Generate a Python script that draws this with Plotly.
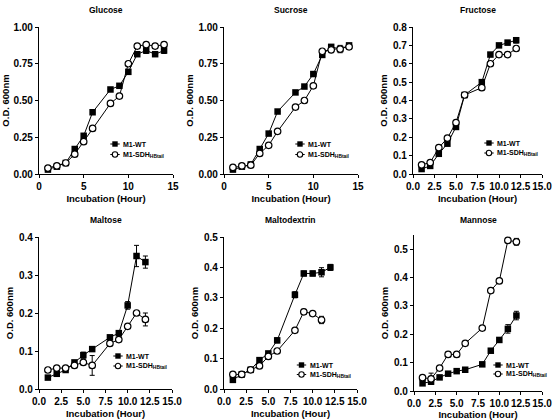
import plotly.graph_objects as go

# ---------------- data ----------------
hours_14 = [1, 2, 3, 4, 5, 6, 8, 9, 10, 11, 12, 13, 14]
hours_12 = [1, 2, 3, 4, 5, 6, 8, 9, 10, 11, 12]
hours_11 = [1, 2, 3, 4, 5, 6, 8, 9, 10, 11]

glucose_wt = [0.03, 0.05, 0.075, 0.17, 0.26, 0.42, 0.575, 0.60, 0.695, 0.815, 0.84, 0.815, 0.84]
glucose_wt_err = [0, 0, 0, 0.01, 0, 0, 0, 0, 0, 0.01, 0.02, 0.015, 0.02]
glucose_sdh = [0.04, 0.055, 0.075, 0.135, 0.22, 0.31, 0.48, 0.53, 0.75, 0.87, 0.88, 0.87, 0.88]
glucose_sdh_err = [0, 0, 0, 0, 0, 0, 0, 0, 0, 0.015, 0.015, 0.015, 0.015]

sucrose_wt = [0.03, 0.05, 0.065, 0.17, 0.275, 0.425, 0.555, 0.595, 0.68, 0.81, 0.865, 0.85, 0.875]
sucrose_wt_err = [0, 0, 0, 0, 0, 0, 0, 0, 0, 0.01, 0.015, 0.01, 0.01]
sucrose_sdh = [0.045, 0.055, 0.06, 0.14, 0.195, 0.29, 0.455, 0.50, 0.60, 0.835, 0.845, 0.85, 0.865]
sucrose_sdh_err = [0, 0, 0, 0, 0, 0, 0, 0, 0, 0.01, 0.02, 0.025, 0.01]

fructose_wt = [0.027, 0.044, 0.11, 0.165, 0.256, 0.43, 0.50, 0.65, 0.70, 0.715, 0.728]
fructose_wt_err = [0, 0, 0, 0, 0, 0, 0.01, 0.01, 0, 0.012, 0.015]
fructose_sdh = [0.05, 0.062, 0.143, 0.195, 0.28, 0.43, 0.47, 0.60, 0.65, 0.65, 0.683]
fructose_sdh_err = [0, 0, 0, 0, 0, 0, 0, 0, 0, 0, 0.01]

maltose_wt = [0.03, 0.04, 0.05, 0.07, 0.089, 0.105, 0.136, 0.147, 0.22, 0.35, 0.334]
maltose_wt_err = [0, 0, 0, 0, 0.008, 0, 0, 0, 0.01, 0.028, 0.016]
maltose_sdh = [0.05, 0.055, 0.055, 0.062, 0.07, 0.062, 0.12, 0.13, 0.165, 0.20, 0.183]
maltose_sdh_err = [0, 0, 0, 0, 0, 0.026, 0, 0, 0.006, 0, 0.017]

maltodextrin_wt = [0.03, 0.048, 0.063, 0.095, 0.117, 0.16, 0.31, 0.38, 0.38, 0.384, 0.40]
maltodextrin_wt_err = [0, 0, 0, 0, 0, 0.008, 0.01, 0.008, 0.008, 0.015, 0.01]
maltodextrin_sdh = [0.048, 0.048, 0.063, 0.076, 0.107, 0.125, 0.193, 0.254, 0.248, 0.227]
maltodextrin_sdh_err = [0, 0, 0, 0, 0, 0, 0, 0.008, 0, 0.012]

mannose_wt = [0.027, 0.033, 0.048, 0.061, 0.07, 0.075, 0.094, 0.142, 0.18, 0.219, 0.266]
mannose_wt_err = [0, 0.01, 0, 0, 0, 0, 0, 0, 0, 0.015, 0.015]
mannose_sdh = [0.047, 0.043, 0.081, 0.129, 0.129, 0.168, 0.222, 0.354, 0.388, 0.531, 0.526]
mannose_sdh_err = [0, 0.02, 0, 0.008, 0.008, 0, 0, 0, 0.008, 0, 0.012]

panel_titles = ["Glucose", "Sucrose", "Fructose", "Maltose", "Maltodextrin", "Mannose"]
series_names = ["M1-WT", "M1-SDH<sub>HBtail</sub>"]

panels_data = [
    (hours_14, glucose_wt, glucose_wt_err, hours_14, glucose_sdh, glucose_sdh_err),
    (hours_14, sucrose_wt, sucrose_wt_err, hours_14, sucrose_sdh, sucrose_sdh_err),
    (hours_12, fructose_wt, fructose_wt_err, hours_12, fructose_sdh, fructose_sdh_err),
    (hours_12, maltose_wt, maltose_wt_err, hours_12, maltose_sdh, maltose_sdh_err),
    (hours_12, maltodextrin_wt, maltodextrin_wt_err, hours_11, maltodextrin_sdh, maltodextrin_sdh_err),
    (hours_12, mannose_wt, mannose_wt_err, hours_12, mannose_sdh, mannose_sdh_err),
]

# ---------------- layout spec (pixels) ----------------
W, H = 560, 420
# x0, x1, ytop, ybottom, yrange max, ydtick, yfmt, xdtick, xfmt, legend marker x, legend y1, legend y2
panel_layout = [
    (39, 173, 27, 174, 1.0, 0.25, ".2f", 5, "d", 115, 144, 154.5),
    (224, 358, 27, 174, 1.0, 0.25, ".2f", 5, "d", 300, 144, 154.5),
    (413, 542, 27, 174, 0.8, 0.1, ".1f", 2.5, ".1f", 489, 143, 153),
    (39, 172, 237, 389, 0.4, 0.1, ".1f", 2.5, ".1f", 118, 356, 366),
    (224, 357, 237, 389, 0.5, 0.1, ".1f", 2.5, ".1f", 301.5, 365, 374.5),
    (414, 542, 235, 391, 0.55, 0.1, ".1f", 2.5, ".1f", 498, 365, 374),
]
title_y = [10, 10, 10, 220, 220, 220]


def px(x):
    return x / W


def py(y):
    return 1 - y / H


FONT = "Liberation Sans, Arial, sans-serif"
tickfont = dict(family=FONT, size=10, color="black", weight="bold")
titlefont = dict(family=FONT, size=9.5, color="black", weight="bold")

fig = go.Figure()
annotations = []
shapes = []

for i, (d, lay) in enumerate(zip(panels_data, panel_layout)):
    xw, yw, ew, xs, ys, es = d
    x0, x1, yt, yb, ymax, ydt, yfmt, xdt, xfmt, lx, ly1, ly2 = lay
    sfx = "" if i == 0 else str(i + 1)
    xa, ya = "x" + sfx, "y" + sfx

    fig.add_trace(go.Scatter(
        x=xw, y=yw, mode="lines+markers", xaxis=xa, yaxis=ya, showlegend=False,
        line=dict(color="black", width=1),
        marker=dict(symbol="square", size=6.5, color="black"),
        error_y=dict(type="data", array=ew, color="black", thickness=1, width=2.5),
    ))
    fig.add_trace(go.Scatter(
        x=xs, y=ys, mode="lines+markers", xaxis=xa, yaxis=ya, showlegend=False,
        line=dict(color="black", width=1),
        marker=dict(symbol="circle", size=6.5, color="white", line=dict(color="black", width=1.2)),
        error_y=dict(type="data", array=es, color="black", thickness=1, width=2.5),
    ))

    axis_common = dict(showline=True, linecolor="black", linewidth=1.3, ticks="outside",
                       ticklen=3, tickwidth=1.2, tickcolor="black", showgrid=False,
                       zeroline=False, tickfont=tickfont, tickangle=0, automargin=False)
    fig.layout["xaxis" + sfx] = dict(
        domain=[px(x0), px(x1)], anchor=ya, range=[0, 15], dtick=xdt, tick0=0,
        tickformat=xfmt, title=dict(text="Incubation (Hour)", font=titlefont, standoff=4),
        **axis_common)
    fig.layout["yaxis" + sfx] = dict(
        domain=[py(yb), py(yt)], anchor=xa, range=[0, ymax], dtick=ydt, tick0=0,
        tickformat=yfmt, title=dict(text="O.D. 600nm", font=titlefont, standoff=3),
        **axis_common)

    annotations.append(dict(
        text=panel_titles[i], xref="paper", yref="paper", x=px((x0 + x1) / 2), y=py(title_y[i]),
        xanchor="center", yanchor="middle", showarrow=False,
        font=dict(family=FONT, size=8.5, color="black", weight="bold")))

    # custom legend
    for j, ly in enumerate([ly1, ly2]):
        shapes.append(dict(type="line", xref="paper", yref="paper",
                           x0=px(lx - 4.7), x1=px(lx + 4.7), y0=py(ly), y1=py(ly),
                           line=dict(color="black", width=1)))
        r = 2.7
        if j == 0:
            shapes.append(dict(type="rect", xref="paper", yref="paper",
                               x0=px(lx - r), x1=px(lx + r), y0=py(ly + r), y1=py(ly - r),
                               fillcolor="black", line=dict(color="black", width=0)))
        else:
            shapes.append(dict(type="circle", xref="paper", yref="paper",
                               x0=px(lx - r), x1=px(lx + r), y0=py(ly + r), y1=py(ly - r),
                               fillcolor="white", line=dict(color="black", width=1.1)))
        annotations.append(dict(
            text=series_names[j], xref="paper", yref="paper", x=px(lx + 6), y=py(ly),
            xanchor="left", yanchor="middle", showarrow=False,
            font=dict(family=FONT, size=7, color="black", weight="bold")))

fig.update_layout(
    template="none",
    width=W, height=H, margin=dict(l=0, r=0, t=0, b=0, autoexpand=False),
    paper_bgcolor="white", plot_bgcolor="white",
    annotations=annotations, shapes=shapes, showlegend=False,
)

fig.write_html("out.html", config={"displayModeBar": False},
               post_script="document.body.style.margin='0';document.body.style.overflow='hidden';")
